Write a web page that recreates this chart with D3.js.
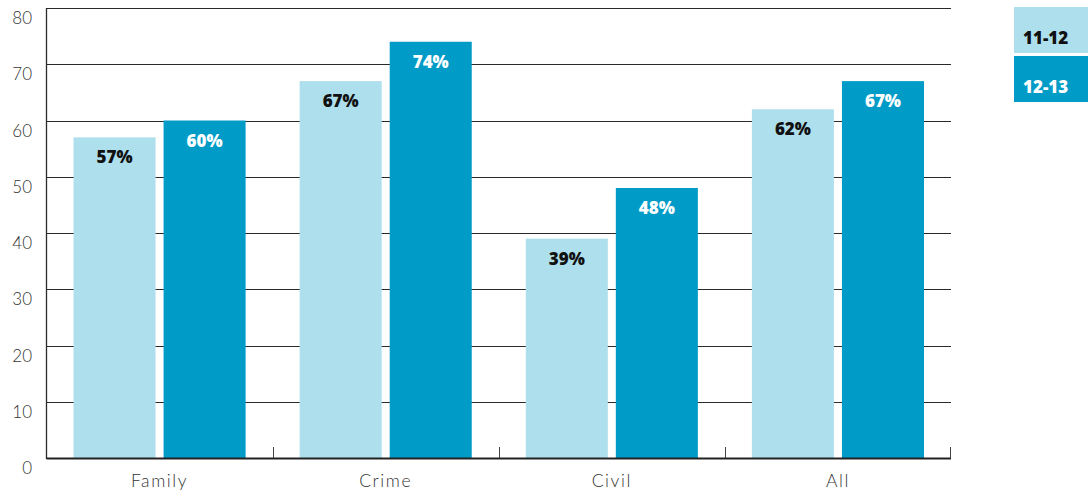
<!DOCTYPE html>
<html><head><meta charset="utf-8">
<script src="https://cdn.jsdelivr.net/npm/d3@7"></script>
<style>body{margin:0;background:#fff;} svg{display:block;}</style>
</head><body><svg id="c" width="1088" height="493"></svg>
<script>
const categories = ["Family","Crime","Civil","All"];
const seriesNames = ["11-12","12-13"];
const values1112 = [57,67,39,62];
const values1213 = [60,74,48,67];
const yTicks = [0,10,20,30,40,50,60,70,80];
const colors = ["#aedfed","#009bc7"];
const labelColors = ["#111","#fff"];

const svg = d3.select("#c");
const m = {l:46.5, r:951, t:8, b:458};
const x = d3.scaleBand().domain(categories).range([m.l, m.r]).paddingInner(0).paddingOuter(0);
const xs = d3.scaleBand().domain(seriesNames).range([0, x.bandwidth()]).paddingInner(0.089).paddingOuter(0.30);
const y = d3.scaleLinear().domain([0,80]).range([m.b, m.t]);

// gridlines
svg.append("g").selectAll("line").data(yTicks.filter(d=>d>0)).join("line")
  .attr("x1", m.l).attr("x2", m.r).attr("y1", d=>Math.round(y(d))+0.5).attr("y2", d=>Math.round(y(d))+0.5)
  .attr("stroke","#2a2a2a").attr("stroke-width",1);

// y labels
svg.append("g").selectAll("text").data(yTicks).join("text")
  .attr("x", 32).attr("y", d=>y(d)+16).attr("text-anchor","end")
  .attr("font-family","Lato, 'Open Sans', sans-serif").attr("font-weight",300)
  .attr("font-size",17).attr("fill","#333").text(d=>d);

// bars
const data = categories.map((c,i)=>({c, v:[values1112[i], values1213[i]]}));
const grp = svg.append("g").selectAll("g").data(data).join("g")
  .attr("transform", d=>`translate(${x(d.c)},0)`);
grp.selectAll("rect").data(d=>d.v.map((v,j)=>({v, s:seriesNames[j], j}))).join("rect")
  .attr("x", d=>xs(d.s)).attr("width", xs.bandwidth())
  .attr("y", d=>y(d.v)).attr("height", d=>y(0)-y(d.v))
  .attr("fill", d=>colors[d.j]);
grp.selectAll("text").data(d=>d.v.map((v,j)=>({v, s:seriesNames[j], j}))).join("text")
  .attr("x", d=>xs(d.s)+xs.bandwidth()/2).attr("y", d=>y(d.v)+26)
  .attr("text-anchor","middle").attr("font-family","'Open Sans', Lato, sans-serif")
  .attr("font-weight",800).attr("font-size",17).attr("fill", d=>labelColors[d.j])
  .text(d=>d.v+"%");

// left axis
svg.append("line").attr("x1",m.l).attr("x2",m.l).attr("y1",m.t).attr("y2",m.b+1)
  .attr("stroke","#2a2a2a").attr("stroke-width",1.3);
// bottom axis
svg.append("line").attr("x1",m.l).attr("x2",m.r).attr("y1",m.b+0.5).attr("y2",m.b+0.5)
  .attr("stroke","#222").attr("stroke-width",2);
// separator ticks
svg.append("g").selectAll("line").data(categories.slice(1).concat(["end"])).join("line")
  .attr("x1", (d,i)=> i<3 ? Math.round(x(d))+0.5 : m.r-0.5)
  .attr("x2", (d,i)=> i<3 ? Math.round(x(d))+0.5 : m.r-0.5)
  .attr("y1", m.b-11).attr("y2", m.b)
  .attr("stroke","#444").attr("stroke-width",1);

// category labels
svg.append("g").selectAll("text").data(categories).join("text")
  .attr("x", d=>x(d)+x.bandwidth()/2).attr("y", 487).attr("text-anchor","middle")
  .attr("font-family","Lato, 'Open Sans', sans-serif").attr("font-weight",300)
  .attr("font-size",17.5).attr("fill","#333").attr("letter-spacing",1.6).text(d=>d);

// legend
const lg = svg.append("g").attr("transform","translate(1014,7)");
lg.selectAll("rect").data(seriesNames).join("rect")
  .attr("x",0).attr("y",(d,i)=>i*49).attr("width",74).attr("height",46)
  .attr("fill",(d,i)=>colors[i]);
lg.selectAll("text").data(seriesNames).join("text")
  .attr("x",9).attr("y",(d,i)=>i*49+37)
  .attr("font-family","'Open Sans', Lato, sans-serif").attr("font-weight",800)
  .attr("font-size",17).attr("fill",(d,i)=>labelColors[i]).text(d=>d);
</script></body></html>
